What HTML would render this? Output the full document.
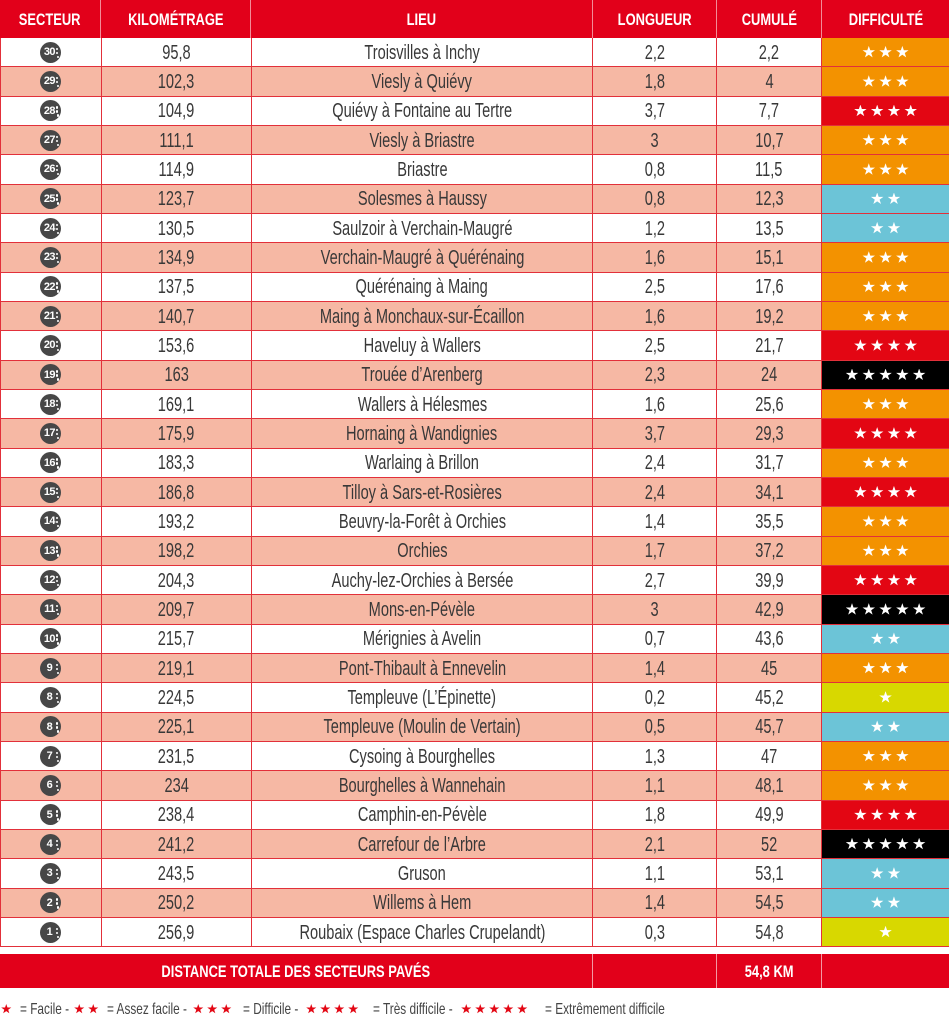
<!DOCTYPE html>
<html><head><meta charset="utf-8">
<style>
*{margin:0;padding:0;box-sizing:border-box}
body{width:949px;height:1024px;background:#fff;position:relative;overflow:hidden;font-family:"Liberation Sans",sans-serif;color:#383838}
.hdr{position:absolute;left:0;top:0;width:949px;height:38px;background:#e2001a;display:flex}
.hdr div{height:38px;border-right:1px solid rgba(255,255,255,.55);display:flex;align-items:center;justify-content:center;color:#fff;font-weight:bold;font-size:17px;padding-top:1px}
.hdr div:last-child{border-right:none}
.hdr span,.r span.t,.tot span{display:inline-block;white-space:nowrap}
.hdr span{transform:scaleX(.76)}
.c1{width:101px}.c2{width:150px}.c3{width:342px}.c4{width:124px}.c5{width:105px}.c6{width:127px}
.tbl{position:absolute;left:0;top:38px;width:949px;border-left:1px solid #e2303a}
.r{height:29.333px;display:flex;border-bottom:1px solid #e2303a}
.r.p{background:#f6b8a4}
.r>div{height:100%;border-right:1px solid #e2303a;display:flex;align-items:center;justify-content:center;font-size:20px;padding-top:2px}
.r>div.c6{border-right:none;padding-top:0}
.r span.t{transform:scaleX(.73)}
.ic{display:inline-flex;align-items:center;justify-content:center;width:21px;height:21px;border-radius:50%;background:#474747;color:#fff;font-weight:bold;font-size:11px;margin-top:-2px;letter-spacing:-0.5px;padding-right:3px;position:relative}
.ic:after{content:"";position:absolute;right:3px;top:6px;width:2.5px;height:2.5px;border-radius:50%;background:#fff;box-shadow:0 4px 0 #fff,1px 8px 0 #fff}
.o{background:#f39200}.rd{background:#e30613}.bk{background:#000}.bl{background:#6cc4d7}.y{background:#d8d800}
.st{display:inline-block;width:13px;height:12.5px;background:#fff;margin:0 1.9px;clip-path:polygon(50% 0%,61.5% 35%,98% 35%,68.5% 57%,79.5% 92%,50% 71%,20.5% 92%,31.5% 57%,2% 35%,38.5% 35%)}
.tot{position:absolute;left:0;top:954px;width:949px;height:34px;background:#e2001a;display:flex}
.tot div{height:34px;border-right:1px solid rgba(255,255,255,.6);display:flex;align-items:center;justify-content:center;color:#fff;font-weight:bold;font-size:17px;padding-top:1px}
.tot div:last-child{border-right:none}
.tot span{transform:scaleX(.76)}
.lg{position:absolute;top:1000px;height:20px;font-size:16px;color:#444;white-space:nowrap;transform:scaleX(.74);transform-origin:left center;line-height:20px}
.ls{position:absolute;top:1004px;width:10.5px;height:10px;background:#e30613;clip-path:polygon(50% 0%,61.5% 35%,98% 35%,68.5% 57%,79.5% 92%,50% 71%,20.5% 92%,31.5% 57%,2% 35%,38.5% 35%)}
</style></head><body>
<div class="hdr">
<div class="c1"><span>SECTEUR</span></div>
<div class="c2"><span>KILOMÉTRAGE</span></div>
<div class="c3"><span>LIEU</span></div>
<div class="c4"><span>LONGUEUR</span></div>
<div class="c5"><span>CUMULÉ</span></div>
<div class="c6"><span>DIFFICULTÉ</span></div>
</div>
<div class="tbl">
<div class="r"><div class="c1"><span class="ic">30</span></div><div class="c2"><span class="t">95,8</span></div><div class="c3"><span class="t">Troisvilles à Inchy</span></div><div class="c4"><span class="t">2,2</span></div><div class="c5"><span class="t">2,2</span></div><div class="c6 o"><i class="st"></i><i class="st"></i><i class="st"></i></div></div>
<div class="r p"><div class="c1"><span class="ic">29</span></div><div class="c2"><span class="t">102,3</span></div><div class="c3"><span class="t">Viesly à Quiévy</span></div><div class="c4"><span class="t">1,8</span></div><div class="c5"><span class="t">4</span></div><div class="c6 o"><i class="st"></i><i class="st"></i><i class="st"></i></div></div>
<div class="r"><div class="c1"><span class="ic">28</span></div><div class="c2"><span class="t">104,9</span></div><div class="c3"><span class="t">Quiévy à Fontaine au Tertre</span></div><div class="c4"><span class="t">3,7</span></div><div class="c5"><span class="t">7,7</span></div><div class="c6 rd"><i class="st"></i><i class="st"></i><i class="st"></i><i class="st"></i></div></div>
<div class="r p"><div class="c1"><span class="ic">27</span></div><div class="c2"><span class="t">111,1</span></div><div class="c3"><span class="t">Viesly à Briastre</span></div><div class="c4"><span class="t">3</span></div><div class="c5"><span class="t">10,7</span></div><div class="c6 o"><i class="st"></i><i class="st"></i><i class="st"></i></div></div>
<div class="r"><div class="c1"><span class="ic">26</span></div><div class="c2"><span class="t">114,9</span></div><div class="c3"><span class="t">Briastre</span></div><div class="c4"><span class="t">0,8</span></div><div class="c5"><span class="t">11,5</span></div><div class="c6 o"><i class="st"></i><i class="st"></i><i class="st"></i></div></div>
<div class="r p"><div class="c1"><span class="ic">25</span></div><div class="c2"><span class="t">123,7</span></div><div class="c3"><span class="t">Solesmes à Haussy</span></div><div class="c4"><span class="t">0,8</span></div><div class="c5"><span class="t">12,3</span></div><div class="c6 bl"><i class="st"></i><i class="st"></i></div></div>
<div class="r"><div class="c1"><span class="ic">24</span></div><div class="c2"><span class="t">130,5</span></div><div class="c3"><span class="t">Saulzoir à Verchain-Maugré</span></div><div class="c4"><span class="t">1,2</span></div><div class="c5"><span class="t">13,5</span></div><div class="c6 bl"><i class="st"></i><i class="st"></i></div></div>
<div class="r p"><div class="c1"><span class="ic">23</span></div><div class="c2"><span class="t">134,9</span></div><div class="c3"><span class="t">Verchain-Maugré à Quérénaing</span></div><div class="c4"><span class="t">1,6</span></div><div class="c5"><span class="t">15,1</span></div><div class="c6 o"><i class="st"></i><i class="st"></i><i class="st"></i></div></div>
<div class="r"><div class="c1"><span class="ic">22</span></div><div class="c2"><span class="t">137,5</span></div><div class="c3"><span class="t">Quérénaing à Maing</span></div><div class="c4"><span class="t">2,5</span></div><div class="c5"><span class="t">17,6</span></div><div class="c6 o"><i class="st"></i><i class="st"></i><i class="st"></i></div></div>
<div class="r p"><div class="c1"><span class="ic">21</span></div><div class="c2"><span class="t">140,7</span></div><div class="c3"><span class="t">Maing à Monchaux-sur-Écaillon</span></div><div class="c4"><span class="t">1,6</span></div><div class="c5"><span class="t">19,2</span></div><div class="c6 o"><i class="st"></i><i class="st"></i><i class="st"></i></div></div>
<div class="r"><div class="c1"><span class="ic">20</span></div><div class="c2"><span class="t">153,6</span></div><div class="c3"><span class="t">Haveluy à Wallers</span></div><div class="c4"><span class="t">2,5</span></div><div class="c5"><span class="t">21,7</span></div><div class="c6 rd"><i class="st"></i><i class="st"></i><i class="st"></i><i class="st"></i></div></div>
<div class="r p"><div class="c1"><span class="ic">19</span></div><div class="c2"><span class="t">163</span></div><div class="c3"><span class="t">Trouée d’Arenberg</span></div><div class="c4"><span class="t">2,3</span></div><div class="c5"><span class="t">24</span></div><div class="c6 bk"><i class="st"></i><i class="st"></i><i class="st"></i><i class="st"></i><i class="st"></i></div></div>
<div class="r"><div class="c1"><span class="ic">18</span></div><div class="c2"><span class="t">169,1</span></div><div class="c3"><span class="t">Wallers à Hélesmes</span></div><div class="c4"><span class="t">1,6</span></div><div class="c5"><span class="t">25,6</span></div><div class="c6 o"><i class="st"></i><i class="st"></i><i class="st"></i></div></div>
<div class="r p"><div class="c1"><span class="ic">17</span></div><div class="c2"><span class="t">175,9</span></div><div class="c3"><span class="t">Hornaing à Wandignies</span></div><div class="c4"><span class="t">3,7</span></div><div class="c5"><span class="t">29,3</span></div><div class="c6 rd"><i class="st"></i><i class="st"></i><i class="st"></i><i class="st"></i></div></div>
<div class="r"><div class="c1"><span class="ic">16</span></div><div class="c2"><span class="t">183,3</span></div><div class="c3"><span class="t">Warlaing à Brillon</span></div><div class="c4"><span class="t">2,4</span></div><div class="c5"><span class="t">31,7</span></div><div class="c6 o"><i class="st"></i><i class="st"></i><i class="st"></i></div></div>
<div class="r p"><div class="c1"><span class="ic">15</span></div><div class="c2"><span class="t">186,8</span></div><div class="c3"><span class="t">Tilloy à Sars-et-Rosières</span></div><div class="c4"><span class="t">2,4</span></div><div class="c5"><span class="t">34,1</span></div><div class="c6 rd"><i class="st"></i><i class="st"></i><i class="st"></i><i class="st"></i></div></div>
<div class="r"><div class="c1"><span class="ic">14</span></div><div class="c2"><span class="t">193,2</span></div><div class="c3"><span class="t">Beuvry-la-Forêt à Orchies</span></div><div class="c4"><span class="t">1,4</span></div><div class="c5"><span class="t">35,5</span></div><div class="c6 o"><i class="st"></i><i class="st"></i><i class="st"></i></div></div>
<div class="r p"><div class="c1"><span class="ic">13</span></div><div class="c2"><span class="t">198,2</span></div><div class="c3"><span class="t">Orchies</span></div><div class="c4"><span class="t">1,7</span></div><div class="c5"><span class="t">37,2</span></div><div class="c6 o"><i class="st"></i><i class="st"></i><i class="st"></i></div></div>
<div class="r"><div class="c1"><span class="ic">12</span></div><div class="c2"><span class="t">204,3</span></div><div class="c3"><span class="t">Auchy-lez-Orchies à Bersée</span></div><div class="c4"><span class="t">2,7</span></div><div class="c5"><span class="t">39,9</span></div><div class="c6 rd"><i class="st"></i><i class="st"></i><i class="st"></i><i class="st"></i></div></div>
<div class="r p"><div class="c1"><span class="ic">11</span></div><div class="c2"><span class="t">209,7</span></div><div class="c3"><span class="t">Mons-en-Pévèle</span></div><div class="c4"><span class="t">3</span></div><div class="c5"><span class="t">42,9</span></div><div class="c6 bk"><i class="st"></i><i class="st"></i><i class="st"></i><i class="st"></i><i class="st"></i></div></div>
<div class="r"><div class="c1"><span class="ic">10</span></div><div class="c2"><span class="t">215,7</span></div><div class="c3"><span class="t">Mérignies à Avelin</span></div><div class="c4"><span class="t">0,7</span></div><div class="c5"><span class="t">43,6</span></div><div class="c6 bl"><i class="st"></i><i class="st"></i></div></div>
<div class="r p"><div class="c1"><span class="ic">9</span></div><div class="c2"><span class="t">219,1</span></div><div class="c3"><span class="t">Pont-Thibault à Ennevelin</span></div><div class="c4"><span class="t">1,4</span></div><div class="c5"><span class="t">45</span></div><div class="c6 o"><i class="st"></i><i class="st"></i><i class="st"></i></div></div>
<div class="r"><div class="c1"><span class="ic">8</span></div><div class="c2"><span class="t">224,5</span></div><div class="c3"><span class="t">Templeuve (L’Épinette)</span></div><div class="c4"><span class="t">0,2</span></div><div class="c5"><span class="t">45,2</span></div><div class="c6 y"><i class="st"></i></div></div>
<div class="r p"><div class="c1"><span class="ic">8</span></div><div class="c2"><span class="t">225,1</span></div><div class="c3"><span class="t">Templeuve (Moulin de Vertain)</span></div><div class="c4"><span class="t">0,5</span></div><div class="c5"><span class="t">45,7</span></div><div class="c6 bl"><i class="st"></i><i class="st"></i></div></div>
<div class="r"><div class="c1"><span class="ic">7</span></div><div class="c2"><span class="t">231,5</span></div><div class="c3"><span class="t">Cysoing à Bourghelles</span></div><div class="c4"><span class="t">1,3</span></div><div class="c5"><span class="t">47</span></div><div class="c6 o"><i class="st"></i><i class="st"></i><i class="st"></i></div></div>
<div class="r p"><div class="c1"><span class="ic">6</span></div><div class="c2"><span class="t">234</span></div><div class="c3"><span class="t">Bourghelles à Wannehain</span></div><div class="c4"><span class="t">1,1</span></div><div class="c5"><span class="t">48,1</span></div><div class="c6 o"><i class="st"></i><i class="st"></i><i class="st"></i></div></div>
<div class="r"><div class="c1"><span class="ic">5</span></div><div class="c2"><span class="t">238,4</span></div><div class="c3"><span class="t">Camphin-en-Pévèle</span></div><div class="c4"><span class="t">1,8</span></div><div class="c5"><span class="t">49,9</span></div><div class="c6 rd"><i class="st"></i><i class="st"></i><i class="st"></i><i class="st"></i></div></div>
<div class="r p"><div class="c1"><span class="ic">4</span></div><div class="c2"><span class="t">241,2</span></div><div class="c3"><span class="t">Carrefour de l’Arbre</span></div><div class="c4"><span class="t">2,1</span></div><div class="c5"><span class="t">52</span></div><div class="c6 bk"><i class="st"></i><i class="st"></i><i class="st"></i><i class="st"></i><i class="st"></i></div></div>
<div class="r"><div class="c1"><span class="ic">3</span></div><div class="c2"><span class="t">243,5</span></div><div class="c3"><span class="t">Gruson</span></div><div class="c4"><span class="t">1,1</span></div><div class="c5"><span class="t">53,1</span></div><div class="c6 bl"><i class="st"></i><i class="st"></i></div></div>
<div class="r p"><div class="c1"><span class="ic">2</span></div><div class="c2"><span class="t">250,2</span></div><div class="c3"><span class="t">Willems à Hem</span></div><div class="c4"><span class="t">1,4</span></div><div class="c5"><span class="t">54,5</span></div><div class="c6 bl"><i class="st"></i><i class="st"></i></div></div>
<div class="r"><div class="c1"><span class="ic">1</span></div><div class="c2"><span class="t">256,9</span></div><div class="c3"><span class="t">Roubaix (Espace Charles Crupelandt)</span></div><div class="c4"><span class="t">0,3</span></div><div class="c5"><span class="t">54,8</span></div><div class="c6 y"><i class="st"></i></div></div>
</div>
<div class="tot">
<div style="width:593px"><span>DISTANCE TOTALE DES SECTEURS PAVÉS</span></div>
<div class="c4"></div>
<div class="c5"><span>54,8 KM</span></div>
<div class="c6"></div>
</div>
<i class="ls" style="left:1px"></i>
<span class="lg" style="left:20px">= Facile -</span>
<i class="ls" style="left:74px"></i><i class="ls" style="left:88px"></i>
<span class="lg" style="left:107px">= Assez facile -</span>
<i class="ls" style="left:193px"></i><i class="ls" style="left:207px"></i><i class="ls" style="left:221px"></i>
<span class="lg" style="left:243px">= Difficile -</span>
<i class="ls" style="left:306px"></i><i class="ls" style="left:320px"></i><i class="ls" style="left:334px"></i><i class="ls" style="left:348px"></i>
<span class="lg" style="left:373px">= Très difficile -</span>
<i class="ls" style="left:461px"></i><i class="ls" style="left:475px"></i><i class="ls" style="left:489px"></i><i class="ls" style="left:503px"></i><i class="ls" style="left:517px"></i>
<span class="lg" style="left:545px">= Extrêmement difficile</span>
</body></html>
